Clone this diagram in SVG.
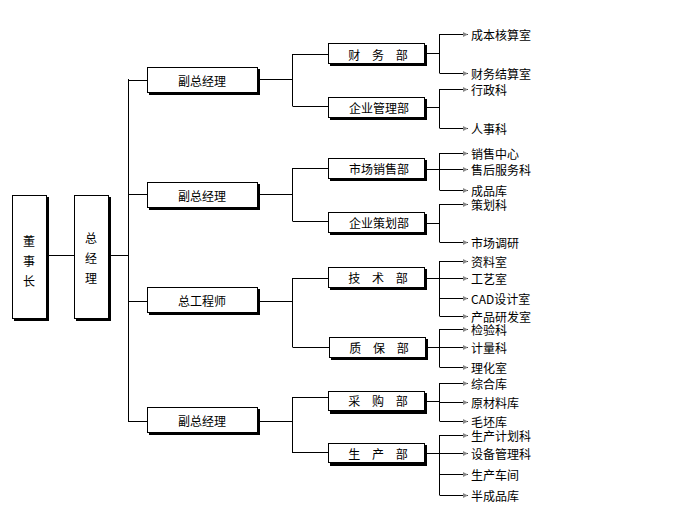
<svg xmlns="http://www.w3.org/2000/svg" width="694" height="513" viewBox="0 0 694 513">
<style>
text{font-family:"Noto Sans CJK SC","Liberation Sans",sans-serif;font-size:12px;fill:#000;dominant-baseline:central}
.c{text-anchor:middle}
.sp{word-spacing:9px}
.box{fill:#fff;stroke:#000;stroke-width:1}
.sh{fill:#000}
#connectors path{fill:none;stroke:#000;stroke-width:1}
.ar{marker-end:url(#arr)}
</style>
<defs>
<marker id="arr" markerWidth="6" markerHeight="6" refX="5" refY="3" orient="auto" markerUnits="userSpaceOnUse">
<path d="M0,0.5 L5,3 L0,5.5 Z" fill="#888" stroke="none"/>
</marker>
</defs>
<rect width="694" height="513" fill="#fff"/>
<g id="connectors">
<path d="M47,255.5H74 M110,255.5H128.5 M128.5,79V422 M128.5,80.5H147 M128.5,194.5H147 M128.5,301.5H147 M128.5,421.5H147"/>
<path d="M260,79.5H292.5 M292.5,54V106 M292.5,54.5H328 M292.5,106.5H328"/>
<path d="M260,194.5H292.5 M292.5,168V221 M292.5,168.5H328 M292.5,221.5H328"/>
<path d="M260,301.5H292.5 M292.5,278V347 M292.5,278.5H328 M292.5,347.5H329"/>
<path d="M260,421.5H292.5 M292.5,397V453 M292.5,397.5H328 M292.5,452.5H328"/>
<path d="M427,53.5H439.5 M439.5,34V73 M427,107.5H439.5 M439.5,89V128 M427,169.5H439.5 M439.5,153V190 M427,223.5H439.5 M439.5,204V242 M427,278.5H439.5 M439.5,261V316 M428,347.5H439.5 M439.5,329V367 M427,401.5H439.5 M439.5,383V421 M427,453.5H439.5 M439.5,435V495"/>
<path class="ar" d="M439.5,34.5H468"/><path class="ar" d="M439.5,73.5H468"/>
<path class="ar" d="M439.5,89.5H468"/><path class="ar" d="M439.5,128.5H468"/>
<path class="ar" d="M439.5,153.5H468"/><path class="ar" d="M439.5,169.5H468"/><path class="ar" d="M439.5,190.5H468"/>
<path class="ar" d="M439.5,204.5H468"/><path class="ar" d="M439.5,242.5H468"/>
<path class="ar" d="M439.5,261.5H468"/><path class="ar" d="M439.5,278.5H468"/><path class="ar" d="M439.5,298.5H468"/><path class="ar" d="M439.5,316.5H468"/>
<path class="ar" d="M439.5,329.5H468"/><path class="ar" d="M439.5,347.5H468"/><path class="ar" d="M439.5,367.5H468"/>
<path class="ar" d="M439.5,383.5H468"/><path class="ar" d="M439.5,402.5H468"/><path class="ar" d="M439.5,421.5H468"/>
<path class="ar" d="M439.5,435.5H468"/><path class="ar" d="M439.5,453.5H468"/><path class="ar" d="M439.5,474.5H468"/><path class="ar" d="M439.5,495.5H468"/>
</g>
<g id="n-dongshizhang"><rect class="sh" x="14" y="197" width="35" height="124"/><rect class="box" x="12.5" y="195.5" width="34" height="123"/>
<text class="c" x="29"><tspan x="29" y="240">董</tspan><tspan x="29" y="260">事</tspan><tspan x="29" y="280">长</tspan></text></g>
<g id="n-zongjingli"><rect class="sh" x="76" y="197" width="35" height="124"/><rect class="box" x="74.5" y="195.5" width="34" height="123"/>
<text class="c" x="91"><tspan x="91" y="237">总</tspan><tspan x="91" y="257">经</tspan><tspan x="91" y="277">理</tspan></text></g>
<g id="n-fz1"><rect class="sh" x="149" y="69" width="111" height="26"/><rect class="box" x="147.5" y="67.5" width="110" height="25"/><text class="c" x="202" y="80">副总经理</text></g>
<g id="n-fz2"><rect class="sh" x="149" y="184" width="111" height="26"/><rect class="box" x="147.5" y="182.5" width="110" height="25"/><text class="c" x="202" y="195">副总经理</text></g>
<g id="n-zgcs"><rect class="sh" x="149" y="289" width="111" height="26"/><rect class="box" x="147.5" y="287.5" width="110" height="25"/><text class="c" x="202" y="300">总工程师</text></g>
<g id="n-fz4"><rect class="sh" x="149" y="409" width="111" height="26"/><rect class="box" x="147.5" y="407.5" width="110" height="25"/><text class="c" x="202" y="420">副总经理</text></g>
<g id="n-caiwu"><rect class="sh" x="330" y="45" width="97" height="21"/><rect class="box" x="328.5" y="43.5" width="96" height="20"/><text class="c sp" x="378" y="54" xml:space="preserve">财 务 部</text></g>
<g id="n-qygl"><rect class="sh" x="330" y="99" width="97" height="21"/><rect class="box" x="328.5" y="97.5" width="96" height="20"/><text class="c" x="379" y="107">企业管理部</text></g>
<g id="n-scxs"><rect class="sh" x="330" y="160" width="97" height="21"/><rect class="box" x="328.5" y="158.5" width="96" height="20"/><text class="c" x="379" y="168">市场销售部</text></g>
<g id="n-qych"><rect class="sh" x="330" y="214" width="97" height="21"/><rect class="box" x="328.5" y="212.5" width="96" height="20"/><text class="c" x="379" y="222">企业策划部</text></g>
<g id="n-jishu"><rect class="sh" x="330" y="269" width="97" height="21"/><rect class="box" x="328.5" y="267.5" width="96" height="20"/><text class="c sp" x="378" y="277" xml:space="preserve">技 术 部</text></g>
<g id="n-zhibao"><rect class="sh" x="331" y="339" width="97" height="21"/><rect class="box" x="329.5" y="337.5" width="96" height="20"/><text class="c sp" x="379" y="347" xml:space="preserve">质 保 部</text></g>
<g id="n-caigou"><rect class="sh" x="330" y="393" width="97" height="21"/><rect class="box" x="328.5" y="391.5" width="96" height="19"/><text class="c sp" x="378" y="400" xml:space="preserve">采 购 部</text></g>
<g id="n-shengchan"><rect class="sh" x="330" y="445" width="97" height="21"/><rect class="box" x="328.5" y="443.5" width="96" height="19"/><text class="c sp" x="378" y="453" xml:space="preserve">生 产 部</text></g>
<g id="leaves">
<text x="471" y="34">成本核算室</text><text x="471" y="73">财务结算室</text>
<text x="471" y="89">行政科</text><text x="471" y="128">人事科</text>
<text x="471" y="153">销售中心</text><text x="471" y="169">售后服务科</text><text x="471" y="190">成品库</text>
<text x="471" y="204">策划科</text><text x="471" y="242">市场调研</text>
<text x="471" y="261">资料室</text><text x="471" y="278">工艺室</text><text x="471" y="298">CAD设计室</text><text x="471" y="316">产品研发室</text>
<text x="471" y="329">检验科</text><text x="471" y="347">计量科</text><text x="471" y="367">理化室</text>
<text x="471" y="383">综合库</text><text x="471" y="402">原材料库</text><text x="471" y="421">毛坯库</text>
<text x="471" y="435">生产计划科</text><text x="471" y="453">设备管理科</text><text x="471" y="474">生产车间</text><text x="471" y="495">半成品库</text>
</g>
</svg>
